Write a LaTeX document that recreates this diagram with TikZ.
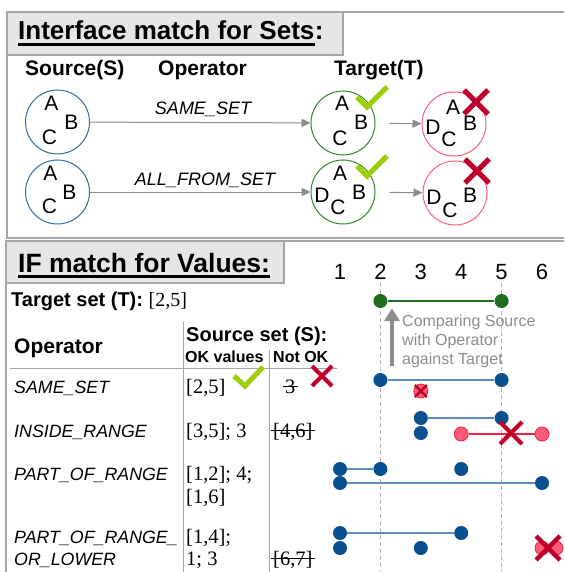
\documentclass[tikz,border=0pt]{standalone}
\usepackage{fontspec}
\setmainfont{Liberation Sans}
\newfontfamily\valfont{Liberation Serif}
\usetikzlibrary{arrows.meta}
\newcommand\setfs[1]{\fontsize{#1}{#1}\selectfont}

\definecolor{panelgray}{HTML}{A6A6A6}
\definecolor{titlefill}{HTML}{E6E6E6}
\definecolor{srcblue}{HTML}{2E6DA4}
\definecolor{trggreen}{HTML}{2A8A2A}
\definecolor{badpink}{HTML}{FF5C7A}
\definecolor{badred}{HTML}{F02040}
\definecolor{okgreen}{HTML}{9BCF0A}
\definecolor{xred}{HTML}{C0002A}
\definecolor{dotblue}{HTML}{0A4F8E}
\definecolor{barblue}{HTML}{5B8CBF}
\definecolor{dotgreen}{HTML}{1E6E1E}
\definecolor{notegray}{HTML}{8C8C8C}
\definecolor{guidegray}{HTML}{B4B4B4}

\begin{document}
\begin{tikzpicture}[x=1pt,y=-1pt,
    panel/.style={draw=panelgray,line width=1.3pt},
    heading/.style={anchor=base west,inner sep=0pt,font=\bfseries\setfs{26}},
    underl/.style={draw=black,line width=3pt},
    colhead/.style={anchor=base west,inner sep=0pt,font=\bfseries\setfs{21}},
    setcircle/.style={circle,draw,line width=1pt,minimum size=64pt,inner sep=0pt},
    letter/.style={inner sep=0pt,font=\setfs{21}},
    opname/.style={anchor=base,inner sep=0pt,font=\itshape\setfs{18}},
    flow/.style={draw=notegray,line width=1pt,-{Triangle[length=9pt,width=8pt]}},
    okmark/.style={draw=okgreen,line width=5pt},
    nomark/.style={draw=xred,line width=5pt},
    rowop/.style={anchor=base west,inner sep=0pt,font=\itshape\setfs{17.8}},
    value/.style={anchor=base west,inner sep=0pt,font=\valfont\setfs{20.5}},
    sethead/.style={anchor=base west,inner sep=0pt,font=\bfseries\setfs{20}},
    subhead/.style={anchor=base west,inner sep=0pt,font=\bfseries\setfs{16}},
    tablerule/.style={draw=panelgray,line width=0.8pt},
    strike/.style={draw=black,line width=0.9pt},
    guideline/.style={draw=guidegray,line width=0.8pt,dash pattern=on 4pt off 3pt},
    valdot/.style={circle,fill=dotblue,minimum size=14pt,inner sep=0pt},
    trgdot/.style={circle,fill=dotgreen,minimum size=14pt,inner sep=0pt},
    baddot/.style={circle,fill=badpink,draw=badred,line width=0.8pt,minimum size=14pt,inner sep=0pt},
    valspan/.style={draw=barblue,line width=1.5pt},
    badspan/.style={draw=badred,line width=1.2pt},
  ]
  \clip (0,0) rectangle (564,572);

  % sets panel
  \draw[panel] (7,12) rectangle (600,238);
  \draw[panel,fill=titlefill] (7,12) rectangle (343,55);
  \node[heading] (title-sets) at (18,40) {Interface match for Sets};
  \node[heading] (title-colon) at (title-sets.base east) {:};
  \draw[underl] ([yshift=-4.5pt]title-sets.base west) -- ([yshift=-4.5pt]title-sets.base east);
  \node[colhead] (src-col) at (25,76) {Source(S)};
  \node[colhead] (op-col) at (158,76) {Operator};
  \node[colhead] (trg-col) at (334,76) {Target(T)};

  \node[setcircle,draw=srcblue] (s1) at (57.5,122) {};
  \node[setcircle,draw=srcblue] (s2) at (57.5,192) {};
  \node[setcircle,draw=trggreen] (t1) at (343,123) {};
  \node[setcircle,draw=trggreen] (t2) at (343,192) {};
  \node[setcircle,draw=badpink] (r1) at (454,124) {};
  \node[setcircle,draw=badpink] (r2) at (455,193) {};

  \foreach \c/\dx/\dy/\t in {s1/-6/-19/A, s1/14/0/B, s1/-8/15/C,
      s2/-7/-19/A, s2/12/0/B, s2/-8/14/C,
      t1/-1/-20/A, t1/18/-1/B, t1/-3/15/C,
      t2/-3/-19/A, t2/16/0/B, t2/-5/15/C, t2/-21/3/D,
      r1/-1/-17/A, r1/16/-1/B, r1/-5/15/C, r1/-21/3/D,
      r2/15/2/B, r2/-5/17/C, r2/-21/4/D}
    \node[letter] (\c-\t) at ([shift={(\dx,\dy)}]\c.center) {\t};

  \draw[flow] (s1) -- (t1);
  \draw[flow] (s2) -- (t2);
  \draw[flow,shorten <=14pt] (t1) -- (r1);
  \draw[flow,shorten <=14pt] (t2) -- (r2);
  \node[opname] (op-same) at (203,115) {SAME\_SET};
  \node[opname] (op-all) at (205,185) {ALL\_FROM\_SET};

  \foreach \t in {t1,t2}
    \draw[okmark] ([shift={(14,-26)}]\t.center) -- ([shift={(24,-16)}]\t.center)
      -- ([shift={(44,-36)}]\t.center);
  \foreach \r in {r1,r2}
    \draw[nomark] ([shift={(10,-34)}]\r.center) -- ([shift={(34,-10)}]\r.center)
      ([shift={(10,-10)}]\r.center) -- ([shift={(34,-34)}]\r.center);

  % values panel
  \draw[panel] (6,580) -- (6,241) -- (600,241);
  \draw[panel,fill=titlefill] (6,241) rectangle (284,283);
  \node[heading,font=\bfseries\setfs{26.5}] (title-vals) at (18,272) {IF match for Values:};
  \draw[underl] ([yshift=-4.5pt]title-vals.base west) -- ([yshift=-4.5pt]title-vals.base east);
  \node[anchor=base west,inner sep=0pt] (trg-head) at (11,306)
    {\bfseries\setfs{20}Target set (T): \valfont\mdseries\setfs{20}[2,5]};

  \draw[tablerule] (183,322) -- (183,580);
  \draw[tablerule] (269,350) -- (269,580);
  \draw[tablerule] (10,368) -- (337,368);
  \node[colhead] (op-head) at (14,353) {Operator};
  \node[sethead] (src-head) at (186,341) {Source set (S):};
  \node[subhead] (ok-head) at (185,362) {OK values};
  \node[subhead] (no-head) at (273,362) {Not OK};

  \node[rowop] (ss-op) at (14,393) {SAME\_SET};
  \node[value] (ss-ok) at (186,393) {[2,5]};
  \node[value] (ss-no) at (285,393) {3};
  \node[rowop] (ir-op) at (14,437) {INSIDE\_RANGE};
  \node[value] (ir-ok) at (186,437) {[3,5]; 3};
  \node[value] (ir-no) at (273,437) {[4,6]};
  \node[rowop] (pr-op) at (14,480) {PART\_OF\_RANGE};
  \node[value] (pr-ok) at (186,480) {[1,2]; 4;};
  \node[value] (pr-ok2) at (186,503) {[1,6]};
  \node[rowop] (pl-op) at (14,543) {PART\_OF\_RANGE\_};
  \node[rowop] (pl-op2) at (14,565) {OR\_LOWER};
  \node[value] (pl-ok) at (186,543) {[1,4];};
  \node[value] (pl-ok2) at (186,565) {1; 3};
  \node[value] (pl-no) at (273,565) {[6,7]};
  \foreach \n in {ss-no,ir-no,pl-no}
    \draw[strike] ([shift={(-2,-7)}]\n.base west) -- ([shift={(2,-7)}]\n.base east);

  \coordinate (ss-tick) at (245,386);
  \draw[okmark] ([shift={(-11,-10)}]ss-tick) -- (ss-tick) -- ([shift={(18,-19)}]ss-tick);
  \coordinate (ss-cross) at (322,376);
  \draw[nomark,line width=4pt] ([shift={(-10,-10)}]ss-cross) -- ([shift={(10,10)}]ss-cross)
    ([shift={(-10,10)}]ss-cross) -- ([shift={(10,-10)}]ss-cross);

  % number line
  \foreach \v [evaluate=\v as \xv using {340+40.4*(\v-1)}] in {1,...,6}
    \node[anchor=base,inner sep=0pt,font=\setfs{22}] (N-\v) at (\xv,279) {\v};
  \foreach \v in {2,5}
    \draw[guideline] ([yshift=-4pt]N-\v.south) -- (N-\v.south |- 0,580);

  \node[trgdot] (g2) at (N-2 |- 0,301) {};
  \node[trgdot] (g5) at (N-5 |- 0,301) {};
  \draw[draw=dotgreen,line width=1.2pt] (g2) -- (g5);

  \coordinate (cmp-foot) at (392,366);
  \draw[draw=notegray,line width=4pt,-{Triangle[length=13pt,width=15pt]}] (cmp-foot) -- (cmp-foot |- g2.south);
  \node[anchor=north west,align=left,inner sep=0pt,text=notegray,font=\fontsize{16}{19}\selectfont]
    (cmp-note) at (402,315) {Comparing Source\\with Operator\\against Target};

  \foreach \n/\v/\y in {a2/2/380, a5/5/380, b3/3/418, b5/5/418, bb3/3/433,
      c1/1/469, c2/2/469, c4/4/469, d1/1/483, d6/6/483,
      e1/1/533, e4/4/533, f1/1/548, f3/3/548}
    \node[valdot] (\n) at (N-\v |- 0,\y) {};
  \draw[valspan] (a2) -- (a5);
  \draw[valspan] (b3) -- (b5);
  \draw[valspan] (c1) -- (c2);
  \draw[valspan] (d1) -- (d6);
  \draw[valspan] (e1) -- (e4);

  \node[baddot] (fx7) at (556,548) {};
  \foreach \n/\v/\y in {ax3/3/391, bx4/4/434, bx6/6/434, fx6/6/548}
    \node[baddot] (\n) at (N-\v |- 0,\y) {};
  \draw[badspan] (bx4) -- (bx6);

  \draw[nomark,line width=2.5pt] ([shift={(-6,-6)}]ax3.center) -- ([shift={(6,6)}]ax3.center)
    ([shift={(-6,6)}]ax3.center) -- ([shift={(6,-6)}]ax3.center);
  \coordinate (ir-cross) at (511,433);
  \draw[nomark,line width=4pt] ([shift={(-11,-11)}]ir-cross) -- ([shift={(11,11)}]ir-cross)
    ([shift={(-11,11)}]ir-cross) -- ([shift={(11,-11)}]ir-cross);
  \coordinate (pl-cross) at (548,548);
  \draw[nomark,line width=4.5pt] ([shift={(-12,-12)}]pl-cross) -- ([shift={(12,12)}]pl-cross)
    ([shift={(-12,12)}]pl-cross) -- ([shift={(12,-12)}]pl-cross);
\end{tikzpicture}
\end{document}
